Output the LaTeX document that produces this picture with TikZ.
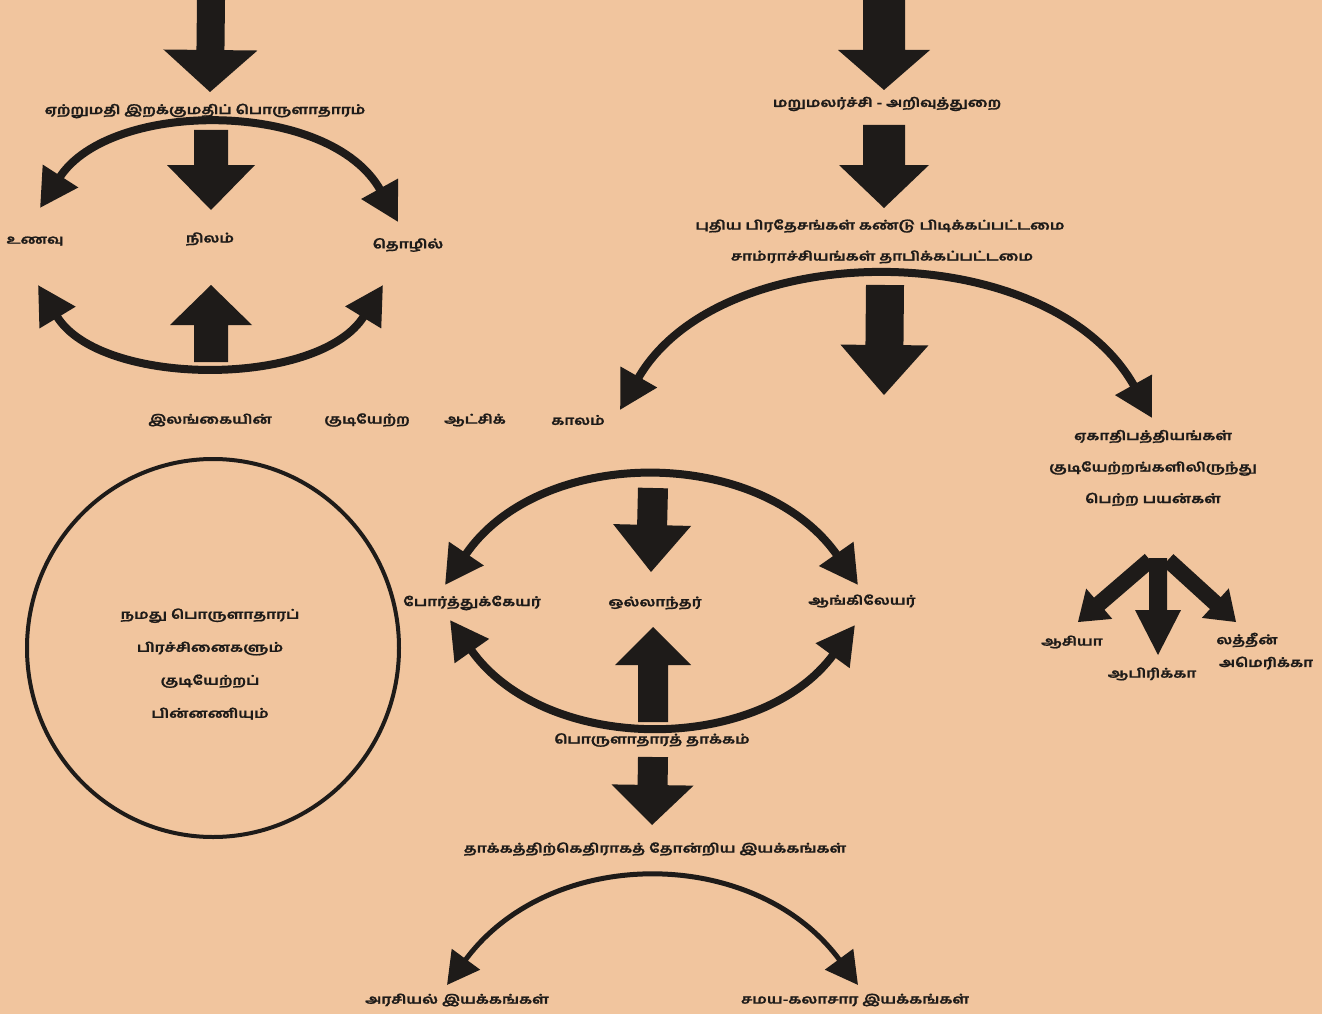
\documentclass[tikz,border=0pt]{standalone}
\usepackage{fontspec}
\usepackage{graphicx}
\newfontfamily\tam[Script=Tamil, FakeBold=1.2]{Hind Madurai}
\usetikzlibrary{arrows.meta,calc}
\definecolor{bg}{RGB}{241,197,158}
\definecolor{ink}{RGB}{30,27,25}
\newcommand\T[1]{\scalebox{1.33}[1.05]{#1}}
\newcommand\blkarrow[5]{%
 \coordinate (bh) at ($(#2)!#5!(#1)$);
 \fill[ink] ($(#1)!#3!90:(#2)$) -- ($(bh)!#3!90:(#2)$) -- ($(bh)!#4!90:(#2)$) -- (#2)
   -- ($(bh)!#4!-90:(#2)$) -- ($(bh)!#3!-90:(#2)$) -- ($(#1)!#3!-90:(#2)$) -- cycle;}
\tikzset{
 lbl/.style={font=\tam\bfseries\fontsize{12}{14}\selectfont, text=ink, inner sep=0pt},
 carrow/.style={draw=ink, line width=8pt, {Triangle[length=38pt,width=40pt]}-{Triangle[length=38pt,width=40pt]}},
 carrowthin/.style={draw=ink, line width=5pt, {Triangle[length=32pt,width=34pt]}-{Triangle[length=32pt,width=34pt]}},
}
\begin{document}
\begin{tikzpicture}[x=1pt,y=-1pt]
\useasboundingbox (0,0) rectangle (1322,1014);
\fill[bg] (0,0) rectangle (1322,1014);

% ---- labels
\node[lbl] (exim) at (205,111) {\T{ஏற்றுமதி இறக்குமதிப் பொருளாதாரம்}};
\node[lbl] (food) at (35,241) {\T{உணவு}};
\node[lbl] (land) at (210,239) {\T{நிலம்}};
\node[lbl] (ind) at (408,245) {\T{தொழில்}};
\node[lbl] (sl1) at (210,420) {\T{இலங்கையின்}};
\node[lbl] (sl2) at (367,420) {\T{குடியேற்ற}};
\node[lbl] (sl3) at (475,420) {\T{ஆட்சிக்}};
\node[lbl] (sl4) at (578,420) {\T{காலம்}};
\node[lbl] (ren) at (887,104) {\T{மறுமலர்ச்சி - அறிவுத்துறை}};
\node[lbl] (disc) at (880,226) {\T{புதிய பிரதேசங்கள் கண்டு பிடிக்கப்பட்டமை}};
\node[lbl] (emp) at (882,257) {\T{சாம்ராச்சியங்கள் தாபிக்கப்பட்டமை}};
\node[lbl, align=center, font=\tam\bfseries\fontsize{12}{31.5}\selectfont] (benef) at (1153,468) {\T{ஏகாதிபத்தியங்கள்}\\\T{குடியேற்றங்களிலிருந்து}\\\T{பெற்ற பயன்கள்}};
\node[lbl] (asia) at (1072,642) {\T{ஆசியா}};
\node[lbl] (afr) at (1152,674) {\T{ஆபிரிக்கா}};
\node[lbl] (lat1) at (1247,640) {\T{லத்தீன்}};
\node[lbl] (lat2) at (1266,663) {\T{அமெரிக்கா}};
\node[lbl, align=center, font=\tam\bfseries\fontsize{12}{33}\selectfont] (circ) at (210,664) {\T{நமது பொருளாதாரப்}\\\T{பிரச்சினைகளும்}\\\T{குடியேற்றப்}\\\T{பின்னணியும்}};
\node[lbl] (port) at (472,603) {\T{போர்த்துக்கேயர்}};
\node[lbl] (dutch) at (655,603) {\T{ஒல்லாந்தர்}};
\node[lbl] (eng) at (862,601) {\T{ஆங்கிலேயர்}};
\node[lbl] (impact) at (652,740) {\T{பொருளாதாரத் தாக்கம்}};
\node[lbl] (mov) at (655,849) {\T{தாக்கத்திற்கெதிராகத் தோன்றிய இயக்கங்கள்}};
\node[lbl] (pol) at (457,1000) {\T{அரசியல் இயக்கங்கள்}};
\node[lbl] (rel) at (855,1000) {\T{சமய-கலாசார இயக்கங்கள்}};

% ---- circle
\draw[ink, line width=4pt] (213,648) ellipse [x radius=186pt, y radius=189pt];

% ---- block arrows
\coordinate (b1s) at (211,0);   \coordinate (b1e) at (210,92);
\coordinate (b2s) at (211,130); \coordinate (b2e) at (211,210);
\coordinate (b3s) at (211,362); \coordinate (b3e) at (211,285);
\coordinate (b4s) at (884,0);   \coordinate (b4e) at (884,90);
\coordinate (b5s) at (884,125); \coordinate (b5e) at (884,208);
\coordinate (b6s) at (885,285); \coordinate (b6e) at (884,395);
\coordinate (b7s) at (653,488); \coordinate (b7e) at (651,572);
\coordinate (b8s) at (653,722); \coordinate (b8e) at (653,627);
\coordinate (b9s) at (653,757); \coordinate (b9e) at (652,825);
\coordinate (s1s) at (1158,558); \coordinate (s1e) at (1158,655);
\coordinate (s2s) at (1150,560); \coordinate (s2e) at (1078,622);
\coordinate (s3s) at (1168,560); \coordinate (s3e) at (1236,622);
\blkarrow{b1s}{b1e}{14pt}{47pt}{42pt}
\blkarrow{b2s}{b2e}{17pt}{44pt}{45pt}
\blkarrow{b3s}{b3e}{17pt}{41pt}{40pt}
\blkarrow{b4s}{b4e}{21pt}{46pt}{40pt}
\blkarrow{b5s}{b5e}{21pt}{45pt}{43pt}
\blkarrow{b6s}{b6e}{19pt}{44pt}{50pt}
\blkarrow{b7s}{b7e}{15pt}{39pt}{47pt}
\blkarrow{b8s}{b8e}{15pt}{38pt}{38pt}
\blkarrow{b9s}{b9e}{15pt}{41pt}{40pt}
\blkarrow{s1s}{s1e}{9pt}{23pt}{45pt}
\blkarrow{s2s}{s2e}{8pt}{20pt}{28pt}
\blkarrow{s3s}{s3e}{8pt}{20pt}{28pt}

% ---- curved arrows
\coordinate (cAl) at (40,208);   \coordinate (cAr) at (398,222);
\coordinate (cBl) at (38,285);   \coordinate (cBr) at (383,285);
\coordinate (cCl) at (620,410);  \coordinate (cCr) at (1152,418);
\coordinate (cDl) at (445,585);  \coordinate (cDr) at (858,585);
\coordinate (cEl) at (450,620);  \coordinate (cEr) at (855,625);
\coordinate (cFl) at (447,985);  \coordinate (cFr) at (858,985);
\draw[carrow] (cAl) .. controls (110,99) and (330,99) .. (cAr);
\draw[carrow] (cBl) .. controls (100,388) and (320,388) .. (cBr);
\draw[carrow] (cCl) .. controls (720,235) and (1050,235) .. (cCr);
\draw[carrow] (cDl) .. controls (540,445) and (760,445) .. (cDr);
\draw[carrow] (cEl) .. controls (545,755) and (760,755) .. (cEr);
\draw[carrowthin] (cFl) .. controls (550,845) and (755,845) .. (cFr);
\end{tikzpicture}
\end{document}
